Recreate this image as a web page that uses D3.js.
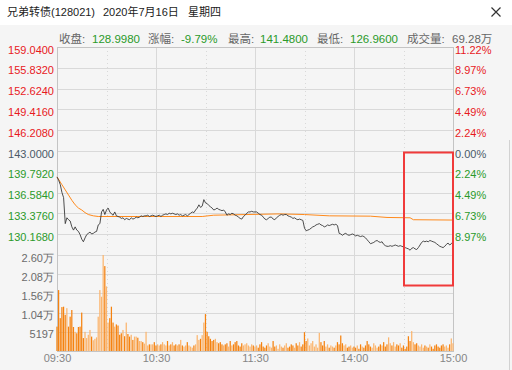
<!DOCTYPE html>
<meta charset="utf-8">
<style>
	body { margin: 0; background: #f5f5f5; }
	svg { display: block; font-family: "Liberation Sans", "Noto Sans CJK SC", sans-serif; }
	.axis .domain { display: none; }
</style>
<svg width="512" height="370"></svg>
<script src="https://d3js.org/d3.v7.min.js"></script>
<script>

// ---- data ----
var title = ["兄弟转债(128021)", "2020年7月16日", "星期四"];
var statNames = ["收盘:", "涨幅:", "最高:", "最低:", "成交量:"];
var statValues = ["128.9980", "-9.79%", "141.4800", "126.9600", "69.28万"];

var preClose = 143.0;
var priceTicks = [159.04, 155.832, 152.624, 149.416, 146.208, 143.0, 139.792, 136.584, 133.376, 130.168];
var pctLabels = ["11.22%", "8.97%", "6.73%", "4.49%", "2.24%", "0.00%", "2.24%", "4.49%", "6.73%", "8.97%"];
var volTicks = [2.6, 2.08, 1.56, 1.04, 0.5197];
var volLabels = ["2.60万", "2.08万", "1.56万", "1.04万", "5197"];
var timeTicks = [0, 60, 120, 180, 240];
var timeLabels = ["09:30", "10:30", "11:30", "14:00", "15:00"];
var halfHours = [30, 90, 150, 210];

// minute prices 09:30 .. 15:00 (241 points)
var prices = [
	139.0, 138.5, 137.8, 136.6, 135.8, 131.8, 132.7, 132.4, 132.2, 131.3,
	130.8, 131.3, 130.8, 130.6, 130.1, 129.4, 129.0, 129.6, 130.1, 130.3,
	130.5, 130.2, 130.3, 130.5, 130.6, 131.6, 131.8, 133.6, 134.0, 133.2,
	133.9, 134.2, 133.6, 133.3, 133.1, 133.6, 133.0, 132.9, 132.8, 132.6,
	132.7, 132.4, 132.6, 132.5, 132.4, 132.7, 132.5, 132.6, 132.8, 132.7,
	132.8, 133.0, 132.9, 133.0, 133.0, 133.1, 132.9, 133.0, 133.1, 133.0,
	132.9, 133.0, 133.1, 132.9, 133.1, 133.2, 133.3, 133.2, 133.4, 133.3,
	133.4, 133.3, 133.2, 133.3, 133.1, 133.2, 133.0, 133.1, 133.2, 133.0,
	133.2, 133.4, 133.6, 133.5, 133.9, 134.2, 134.7, 134.3, 134.5, 135.5,
	135.0, 134.9, 134.6, 134.4, 134.2, 133.9, 134.0, 134.2, 134.0, 133.9,
	133.8, 133.9, 133.6, 133.1, 133.3, 133.2, 133.4, 133.3, 133.1, 133.0,
	132.8, 132.6, 132.5, 132.9, 133.1, 133.4, 133.6, 133.6, 133.7, 133.6,
	133.6, 133.6, 133.4, 133.2, 133.1, 132.8, 132.5, 132.4, 132.6, 132.8,
	132.8, 132.5, 132.4, 132.7, 132.9, 133.1, 133.2, 133.1, 133.2, 133.2,
	133.0, 132.9, 132.8, 132.6, 132.7, 132.5, 132.4, 132.5, 132.4, 132.3,
	131.1, 130.7, 130.8, 130.9, 131.1, 131.3, 131.4, 131.6, 131.7, 131.8,
	131.6, 131.5, 131.3, 131.4, 131.6, 131.5, 131.6, 131.7, 131.6, 131.7,
	131.5, 130.3, 130.2, 130.0, 130.2, 130.3, 130.1, 130.0, 130.1, 130.2,
	130.1, 129.9, 130.0, 129.9, 129.8, 129.9, 129.8, 129.6, 129.3, 129.0,
	128.7, 128.8, 128.9, 129.1, 129.2, 129.0, 128.9, 129.0, 128.6, 128.4,
	128.3, 128.3, 128.4, 128.3, 128.4, 128.5, 128.4, 128.3, 128.4, 128.3,
	128.2, 128.1, 128.0, 127.9, 127.7, 128.0, 128.1, 127.9, 127.8, 128.1,
	128.5, 128.9, 129.1, 129.0, 129.1, 129.0, 129.2, 129.1, 129.0, 128.9,
	128.7, 128.5, 128.3, 128.2, 128.1, 128.3, 128.6, 128.8, 128.5, 128.7,
	129.0
];

// average price line, read at turning points
var avgMinutes = [0, 3, 5, 7, 9, 11, 13, 15, 17, 19, 22, 25, 88, 95, 135, 150, 165, 190, 200, 214, 216, 240];
var avgValues = [139.0, 137.8, 137.0, 136.2, 135.4, 134.7, 134.2, 133.9, 133.5, 133.2, 133.0, 132.9, 132.9, 133.1, 133.3, 133.2, 133.0, 132.95, 132.75, 132.7, 132.4, 132.35];

// minute volume, in 万
var volumes = [
	0.66, 1.65, 0.89, 1.19, 1.20, 0.98, 1.16, 0.66, 0.93, 1.11,
	0.65, 0.52, 0.48, 0.65, 0.66, 1.04, 0.35, 0.52, 0.35, 0.44,
	0.57, 0.39, 0.29, 0.33, 0.37, 0.93, 1.65, 1.47, 2.60, 2.30,
	1.75, 0.77, 0.89, 1.20, 0.77, 0.66, 0.72, 0.69, 0.44, 0.48,
	0.57, 0.40, 0.77, 0.46, 0.39, 0.44, 0.30, 0.39, 0.39, 0.36,
	0.27, 0.27, 0.24, 0.20, 0.52, 0.15, 0.18, 0.18, 0.18, 0.24,
	0.15, 0.18, 0.15, 0.18, 0.24, 0.18, 0.15, 0.27, 0.15, 0.18,
	0.24, 0.15, 0.18, 0.15, 0.18, 0.30, 0.15, 0.12, 0.15, 0.24,
	0.15, 0.12, 0.09, 0.15, 0.18, 0.43, 0.30, 0.33, 0.43, 0.77,
	1.00, 0.52, 0.40, 0.33, 0.27, 0.30, 0.33, 0.24, 0.21, 0.24,
	0.18, 0.15, 0.18, 0.21, 0.12, 0.27, 0.15, 0.18, 0.24, 0.27,
	0.15, 0.12, 0.21, 0.15, 0.18, 0.21, 0.15, 0.12, 0.18, 0.15,
	0.12, 0.15, 0.09, 0.18, 0.24, 0.12, 0.09, 0.15, 0.21, 0.12,
	0.09, 0.27, 0.12, 0.15, 0.06, 0.18, 0.12, 0.09, 0.15, 0.21,
	0.09, 0.12, 0.18, 0.15, 0.09, 0.21, 0.15, 0.24, 0.12, 0.18,
	0.51, 0.27, 0.34, 0.15, 0.21, 0.27, 0.12, 0.18, 0.09, 0.49,
	0.24, 0.15, 0.27, 0.12, 0.18, 0.09, 0.15, 0.12, 0.09, 0.15,
	0.24, 0.18, 0.42, 0.21, 0.15, 0.18, 0.09, 0.12, 0.15, 0.09,
	0.12, 0.09, 0.15, 0.06, 0.18, 0.12, 0.09, 0.15, 0.27, 0.18,
	0.12, 0.09, 0.21, 0.15, 0.09, 0.12, 0.18, 0.15, 0.24, 0.12,
	0.18, 0.37, 0.21, 0.15, 0.24, 0.12, 0.18, 0.15, 0.21, 0.09,
	0.15, 0.06, 0.12, 0.40, 0.27, 0.54, 0.24, 0.18, 0.21, 0.15,
	0.12, 0.18, 0.09, 0.15, 0.12, 0.09, 0.18, 0.12, 0.06, 0.15,
	0.18, 0.12, 0.09, 0.15, 0.18, 0.12, 0.15, 0.09, 0.18, 0.34,
	0.21
];

// ---- layout ----
var svg = d3.select("svg"),
	plotLeft = 57, plotRight = 453,
	plotTop = 47, plotMid = 255, plotBottom = 351;

var red = "#e8191e", green = "#2a9a2a", flat = "#4b5a68";

var x = d3.scaleLinear().domain([0, 240]).range([plotLeft, plotRight]);
var y = d3.scaleLinear().domain([126.96, 159.04]).range([plotMid, plotTop]);
var yv = d3.scaleLinear().domain([0, 2.6]).range([plotBottom, plotMid]);

svg.append("rect").attr("width", 512).attr("height", 25).attr("fill", "#fff");

// title
var titleX = [7, 103, 188];
svg.selectAll(".title").data(title).enter().append("text")
	.attr("x", function(d, i) { return titleX[i]; })
	.attr("y", 16)
	.attr("font-size", 11)
	.attr("fill", "#222")
	.text(function(d) { return d; });

// close mark
svg.append("path").attr("d", "M491.5,7.5L500.5,16.5M500.5,7.5L491.5,16.5")
	.attr("stroke", "#333").attr("stroke-width", 1.2);

// stats line
var nameX = [59, 148, 228, 317, 407];
var valX = [92, 181, 260, 350, 452];
svg.selectAll(".sn").data(statNames).enter().append("text")
	.attr("x", function(d, i) { return nameX[i]; })
	.attr("y", 43)
	.attr("font-size", 11.5)
	.attr("fill", "#666")
	.text(function(d) { return d; });
svg.selectAll(".sv").data(statValues).enter().append("text")
	.attr("x", function(d, i) { return valX[i]; })
	.attr("y", 43)
	.attr("font-size", 11.5)
	.attr("fill", function(d, i) { return i == 4 ? "#666" : green; })
	.text(function(d) { return d; });

// grid
var grid = svg.append("g").attr("stroke", "#d9d9d9").attr("shape-rendering", "crispEdges");
grid.selectAll(".hp").data(priceTicks).enter().append("line")
	.attr("x1", plotLeft).attr("x2", plotRight)
	.attr("y1", function(d) { return Math.round(y(d)) + 0.5; })
	.attr("y2", function(d) { return Math.round(y(d)) + 0.5; });
grid.selectAll(".hv").data(volTicks).enter().append("line")
	.attr("x1", plotLeft).attr("x2", plotRight)
	.attr("y1", function(d) { return Math.round(yv(d)) + 0.5; })
	.attr("y2", function(d) { return Math.round(yv(d)) + 0.5; });
grid.selectAll(".vt").data(timeTicks.slice(1, 4)).enter().append("line")
	.attr("x1", function(d) { return Math.round(x(d)) + 0.5; })
	.attr("x2", function(d) { return Math.round(x(d)) + 0.5; })
	.attr("y1", plotTop).attr("y2", plotBottom);
grid.selectAll(".vh").data(halfHours).enter().append("line")
	.attr("x1", function(d) { return Math.round(x(d)) + 0.5; })
	.attr("x2", function(d) { return Math.round(x(d)) + 0.5; })
	.attr("y1", plotTop).attr("y2", plotBottom)
	.attr("stroke-dasharray", "1,3");

svg.append("rect")
	.attr("x", plotLeft + 0.5).attr("y", plotTop + 0.5)
	.attr("width", plotRight - plotLeft).attr("height", plotBottom - plotTop)
	.attr("fill", "none").attr("stroke", "#c4c4c4");

// volume bars
var step = x(1) - x(0);
svg.append("g").selectAll("rect").data(volumes).enter().append("rect")
	.attr("x", function(d, i) { return x(i) - step * 0.4; })
	.attr("y", function(d) { return yv(d); })
	.attr("width", step * 0.75)
	.attr("height", function(d) { return plotBottom - yv(d); })
	.attr("fill", function(d, i) { return i > 0 && prices[i] >= prices[i - 1] ? "#fbb56e" : "#f5820f"; });

// average line
svg.append("path")
	.datum(avgMinutes)
	.attr("fill", "none")
	.attr("stroke", "#ff8a1c")
	.attr("stroke-width", 1)
	.attr("d", d3.line().x(function(d) { return x(d); }).y(function(d, i) { return y(avgValues[i]); }));

// price line
svg.append("path")
	.datum(prices)
	.attr("fill", "none")
	.attr("stroke", "#3a3a3a")
	.attr("stroke-width", 0.9)
	.attr("d", d3.line().x(function(d, i) { return x(i); }).y(function(d) { return y(d); }));

function labelColor(d) { return d > preClose + 1e-6 ? red : (d < preClose - 1e-6 ? green : flat); }

// left price axis
var ax = svg.append("g").attr("class", "axis")
	.attr("transform", "translate(" + (plotLeft - 1) + ",0)")
	.call(d3.axisLeft(y).tickValues(priceTicks).tickFormat(function(d) { return d.toFixed(4); }).tickSize(0).tickPadding(2));
ax.selectAll("text").attr("font-size", 11).attr("font-family", null).attr("dy", "0.55em")
	.attr("fill", labelColor);

// right percent axis
var ar = svg.append("g").attr("class", "axis")
	.attr("transform", "translate(" + (plotRight + 1) + ",0)")
	.call(d3.axisRight(y).tickValues(priceTicks).tickFormat(function(d, i) { return pctLabels[i]; }).tickSize(0).tickPadding(1));
ar.selectAll("text").attr("font-size", 11).attr("font-family", null).attr("dy", "0.55em")
	.attr("fill", labelColor);

// volume axis
var av = svg.append("g").attr("class", "axis")
	.attr("transform", "translate(" + (plotLeft - 1) + ",0)")
	.call(d3.axisLeft(yv).tickValues(volTicks).tickFormat(function(d, i) { return volLabels[i]; }).tickSize(0).tickPadding(2));
av.selectAll("text").attr("font-size", 11).attr("font-family", null).attr("dy", "0.55em").attr("fill", "#6b6b6b");

// time axis
var at = svg.append("g").attr("class", "axis")
	.attr("transform", "translate(0," + plotBottom + ")")
	.call(d3.axisBottom(x).tickValues(timeTicks).tickFormat(function(d, i) { return timeLabels[i]; }).tickSize(0).tickPadding(3));
at.selectAll("text").attr("font-size", 11).attr("font-family", null).attr("fill", "#858585");

// highlight box
svg.append("rect")
	.attr("x", 404).attr("y", 152.5)
	.attr("width", 49).attr("height", 133)
	.attr("fill", "none").attr("stroke", "#f03a3a").attr("stroke-width", 2);

svg.append("line").attr("x1", 509.5).attr("x2", 509.5).attr("y1", 140).attr("y2", 370)
	.attr("stroke", "#d2d2d2");

</script>
